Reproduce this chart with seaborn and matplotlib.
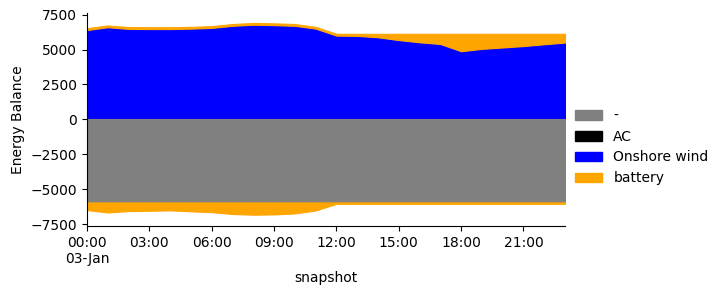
import numpy as np
import pandas as pd
import matplotlib
matplotlib.use("Agg")
import matplotlib.pyplot as plt
from matplotlib.patches import Patch
import seaborn as sns

sns.set_style("ticks")
plt.rcParams['font.family'] = ['DejaVu Sans']
plt.rcParams.update({"text.color": "black", "axes.labelcolor": "black",
                     "xtick.color": "black", "ytick.color": "black",
                     "axes.edgecolor": "black"})

snapshots = pd.date_range("2013-01-03 00:00", periods=24, freq="h")
carriers = ["-", "AC", "Onshore wind", "battery"]
colors = {"-": "#808080", "AC": "#000000", "Onshore wind": "#0000ff", "battery": "#ffa500"}

# positive side
onshore_wind = [6400, 6600, 6480, 6470, 6470, 6500, 6550, 6700, 6780, 6750, 6700, 6500,
                6000, 5980, 5880, 5680, 5520, 5400, 4880, 5050, 5150, 5250, 5380, 5500]
battery_pos = [130, 130, 130, 130, 130, 130, 130, 130, 130, 130, 130, 130,
               130, 150, 250, 450, 610, 730, 1250, 1080, 980, 880, 750, 630]
ac_pos = [0] * 24
# negative side
load = [-5950] * 24
battery_neg = [-550, -720, -620, -600, -570, -640, -700, -830, -880, -860, -790, -580,
               -100, -100, -100, -100, -100, -100, -100, -100, -100, -100, -100, -100]

fig = plt.figure(figsize=(7.21, 2.94), dpi=100)
ax = fig.add_axes([87 / 721, 1 - 226 / 294, (565 - 87) / 721, (226 - 13) / 294])

x = snapshots
base = np.zeros(24)
for name, vals in [("AC", ac_pos), ("Onshore wind", onshore_wind), ("battery", battery_pos)]:
    v = np.asarray(vals, float)
    ax.fill_between(x, base, base + v, color=colors[name], linewidth=0.8, edgecolor=colors[name])
    base = base + v
base = np.zeros(24)
for name, vals in [("-", load), ("battery", battery_neg)]:
    v = np.asarray(vals, float)
    ax.fill_between(x, base, base + v, color=colors[name], linewidth=0.8, edgecolor=colors[name])
    base = base + v

ax.set_xlim(snapshots[0], snapshots[-1])
ax.set_ylim(-7640, 7620)
ax.set_yticks([-7500, -5000, -2500, 0, 2500, 5000, 7500])
ticks = snapshots[::3]
ax.set_xticks(ticks)
labels = [t.strftime("%H:%M") for t in ticks]
labels[0] = labels[0] + "\n" + ticks[0].strftime("%d-%b")
ax.set_xticklabels(labels)
ax.set_xlabel("snapshot")
ax.set_ylabel("Energy Balance")
sns.despine(ax=ax)

handles = [Patch(facecolor=colors[c], edgecolor=colors[c], label=c) for c in carriers]
fig.legend(handles=handles, loc="center left", bbox_to_anchor=(562 / 721, 0.5), frameon=False)

fig.savefig("out.png", dpi=100)
